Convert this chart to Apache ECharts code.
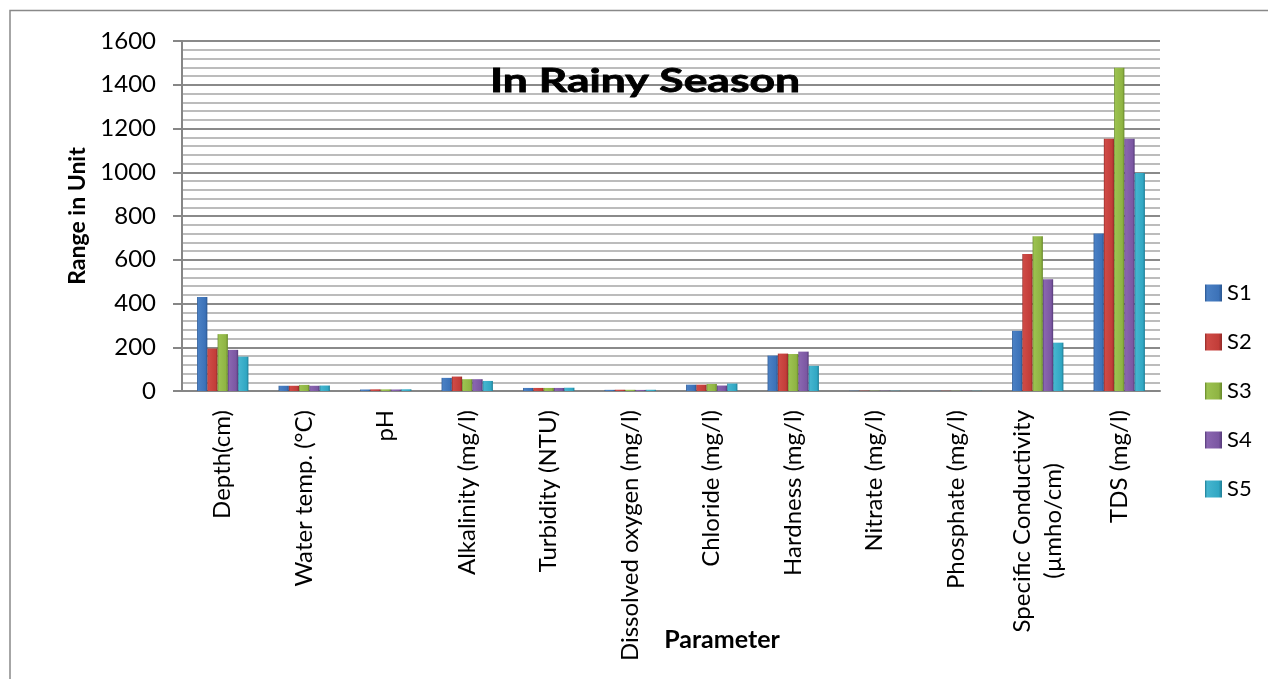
<!DOCTYPE html>
<html>
<head>
<meta charset="utf-8">
<script src="https://cdn.jsdelivr.net/npm/echarts@6/dist/echarts.min.js"></script>
<style>
html,body{margin:0;padding:0;background:#fff;}
#c{width:1268px;height:679px;}
</style>
</head>
<body>
<div id="c"></div>
<script>
const categories = ['Depth(cm)', 'Water temp. (°C)', 'pH', 'Alkalinity (mg/l)', 'Turbidity (NTU)', 'Dissolved oxygen (mg/l)', 'Chloride (mg/l)', 'Hardness (mg/l)', 'Nitrate (mg/l)', 'Phosphate (mg/l)', 'Specific Conductivity\n(µmho/cm)', 'TDS (mg/l)'];
const seriesNames = ['S1', 'S2', 'S3', 'S4', 'S5'];
const S1 = [430, 24, 6.8, 60, 14, 5.2, 29, 162, 1.2, 0.8, 275, 720];
const S2 = [194, 24, 7.6, 66, 14, 5.8, 29, 171, 1.4, 0.9, 626, 1153];
const S3 = [260, 28, 7.4, 54, 14, 5.5, 32, 169, 1.1, 0.7, 708, 1478];
const S4 = [188, 24, 6.9, 54, 14, 4.9, 25, 180, 1.3, 0.8, 511, 1153];
const S5 = [157, 25, 7.8, 46, 15, 5.6, 34, 115, 1.2, 0.9, 221, 997];
const yTicks = { min: 0, max: 1600, interval: 200 };
const titleText = 'In Rainy Season';
const yName = 'Range in Unit';
const xName = 'Parameter';

const values = [S1, S2, S3, S4, S5];
const palette = [
  ['#2a5690', '#3c72b8', '#4a80c4'],
  ['#922a27', '#c23d39', '#cf4b46'],
  ['#66872a', '#8fb443', '#9cc250'],
  ['#553a78', '#7b57a2', '#8a66b0'],
  ['#1f7d95', '#31a7c3', '#45b5cf']
];
function grad(p) {
  return new echarts.graphic.LinearGradient(0, 0, 1, 0, [
    { offset: 0, color: p[0] },
    { offset: 0.12, color: p[2] },
    { offset: 0.8, color: p[1] },
    { offset: 1, color: p[0] }
  ]);
}

const FONT = 'Lato, "Open Sans", sans-serif';
const LABEL_SIZE = 24;
const canvas = document.createElement('canvas');
const ctx = canvas.getContext('2d');
ctx.font = 'bold 33px Lato';
const tw = ctx.measureText(titleText).width || 240;
const titleScale = 310 / tw;

function measure(s) {
  ctx.font = LABEL_SIZE + 'px Lato';
  return ctx.measureText(s).width;
}
const padW = Math.max(1, Math.round((measure('Specific Conductivity') - measure('(µmho/cm)')) / 2));
// centre the lines of a multi-line (rotated, end-aligned) label against each other
function centreLines(v) {
  const s = String(v);
  if (s.indexOf('\n') < 0) return s;
  const parts = s.split('\n');
  return '{t|' + parts[0] + '}\n{t|' + parts[1] + '}{s|\u2800}';
}

const chart = echarts.init(document.getElementById('c'), null, { renderer: 'canvas' });
chart.setOption({
  animation: false,
  backgroundColor: '#ffffff',
  grid: { left: 182, right: 108, top: 41, bottom: 288, containLabel: false },
  legend: {
    orient: 'vertical',
    left: 1200,
    top: 277,
    itemWidth: 17,
    itemHeight: 17,
    itemGap: 27,
    icon: 'rect',
    textStyle: { fontFamily: FONT, fontSize: 22, color: '#000' },
    data: seriesNames
  },
  xAxis: {
    type: 'category',
    data: categories,
    axisLine: { show: true, lineStyle: { color: '#868686', width: 2 } },
    axisTick: { show: false },
    axisLabel: {
      rotate: 90,
      margin: 19,
      interval: 0,
      fontFamily: FONT,
      fontSize: LABEL_SIZE,
      color: '#000',
      lineHeight: 31,
      formatter: centreLines,
      rich: {
        t: { fontFamily: FONT, fontSize: LABEL_SIZE, color: '#000', lineHeight: 31 },
        s: { fontFamily: FONT, fontSize: LABEL_SIZE, color: 'rgba(0,0,0,0)', lineHeight: 31, width: padW }
      }
    }
  },
  yAxis: {
    type: 'value',
    min: yTicks.min,
    max: yTicks.max,
    interval: yTicks.interval,
    name: yName,
    nameLocation: 'middle',
    nameGap: 93,
    nameTextStyle: { fontFamily: FONT, fontSize: 23, fontWeight: 'bold', color: '#000' },
    axisLine: { show: true, lineStyle: { color: '#868686', width: 2 } },
    axisTick: { show: true, inside: false, length: 9, lineStyle: { color: '#868686', width: 2 } },
    axisLabel: { fontFamily: FONT, fontSize: 24, color: '#000', margin: 26, formatter: v => String(v) },
    splitLine: { show: true, lineStyle: { color: '#8a8a8a', width: 2 } },
    minorTick: { show: false, splitNumber: 5 },
    minorSplitLine: { show: true, lineStyle: { color: '#bcbcbc', width: 2 } }
  },
  graphic: [
    {
      type: 'rect',
      silent: true,
      z: -1,
      shape: { x: 10, y: 10.5, width: 1400, height: 800 },
      style: { fill: 'none', stroke: '#898989', lineWidth: 1.5 }
    },
    {
      type: 'text',
      silent: true,
      x: 645,
      y: 81,
      scaleX: titleScale,
      style: {
        text: titleText,
        font: 'bold 33px Lato',
        fill: '#000',
        stroke: '#000',
        lineWidth: 0.8,
        textAlign: 'center',
        textVerticalAlign: 'middle'
      },
      z: 10
    },
    {
      type: 'text',
      silent: true,
      x: 722,
      y: 640,
      style: {
        text: xName,
        font: 'bold 25px Lato',
        fill: '#000',
        textAlign: 'center',
        textVerticalAlign: 'middle'
      }
    }
  ],
  series: seriesNames.map((n, i) => ({
    name: n,
    type: 'bar',
    data: values[i],
    barGap: '0%',
    barCategoryGap: '37%',
    itemStyle: { color: grad(palette[i]) }
  }))
});
</script>
</body>
</html>
